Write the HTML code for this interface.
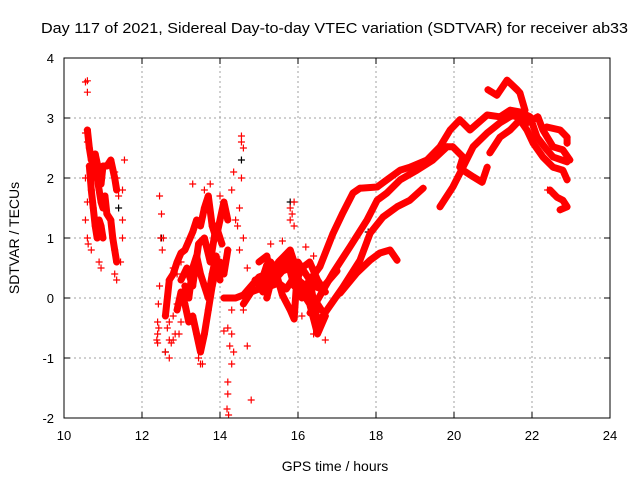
<!DOCTYPE html>
<html><head><meta charset="utf-8"><style>
html,body{margin:0;padding:0;background:#fff}
svg{display:block;font-family:"Liberation Sans",sans-serif}
</style></head><body>
<svg id="chart" width="640" height="480" viewBox="0 0 640 480">
<rect width="640" height="480" fill="#fff"/>
<text x="41" y="33" font-size="15" textLength="587" lengthAdjust="spacingAndGlyphs">Day 117 of 2021, Sidereal Day-to-day VTEC variation (SDTVAR) for receiver ab33</text>
<text x="335" y="471" font-size="14" text-anchor="middle">GPS time / hours</text>
<text x="0" y="0" font-size="14" text-anchor="middle" transform="translate(19,238) rotate(-90)">SDTVAR / TECUs</text>
<g id="grid"></g>
<g id="marks"></g>
<g id="axes"></g>
</svg>
<script>
const xTicks=[10,12,14,16,18,20,22,24];
const yTicks=[-2,-1,0,1,2,3,4];
const blackPoints=[[14.55,2.3],[15.8,1.6],[12.5,1.0],[12.6,-0.9],[17.8,1.1],[11.4,1.5]];
const scatterPoints=[[12.45,1.7],[12.5,1.4],[12.48,1.0],[12.52,0.8],[12.45,0.2],[12.42,-0.1],[12.4,-0.4],[12.43,-0.5],[12.4,-0.6],[12.38,-0.7],[12.55,1.0],
[12.65,-0.5],[12.7,-0.7],[12.75,-0.75],[12.8,-0.7],[12.85,-0.6],[12.7,-0.4],[12.8,-0.3],[12.9,-0.1],[12.6,-0.9],[12.95,-0.6],[13.0,-0.4],[12.7,0.3],[12.8,0.5],[12.9,0.4],[13.0,0.6],
[14.15,0.0],[14.2,-0.5],[14.25,-0.8],[14.3,-0.6],[14.35,-0.9],[14.3,-1.1],[14.2,-1.4],[14.2,-1.6],[14.18,-1.85],[14.22,-1.95],
[14.55,2.6],[14.6,2.5],[14.55,2.7],[14.55,2.0],[14.5,1.5],[14.45,1.2],[14.4,1.3],[14.3,1.8],[14.35,2.1],[14.6,1.0],[14.5,0.8],[14.7,0.5],[14.6,-0.2],
[14.7,-0.8],[14.8,-1.7],[13.5,-1.1],[13.55,-1.1],[13.45,-1.0],[12.7,-1.0],[12.4,-0.75],[15.9,1.6],[15.8,1.5],[15.85,1.4],[15.8,1.3],[15.9,1.2],[16.1,-0.3],[16.7,-0.7],[16.4,-0.6],[16.5,-0.5],[14.1,-0.55],[14.3,-0.2],
[10.55,3.6],[10.6,3.62],[10.6,3.43],[10.6,2.8],[10.55,2.75],[10.6,2.6],[10.55,2.0],[10.6,1.6],[10.55,1.3],[10.6,1.0],[10.62,0.9],[10.7,0.8],[10.9,0.6],[10.95,0.5],[11.3,0.4],[11.35,0.3],[11.45,0.6],[11.5,1.0],[11.5,1.3],[11.4,1.7],[11.5,1.8],[11.55,2.3],[11.35,2.0],[11.3,2.1],
[22.4,1.8],[22.5,1.75],[20.9,3.45],[13.3,1.9],[13.6,1.8],[13.75,1.9],[14.0,1.7],[15.3,0.9],[15.6,0.95],[16.2,0.85],[16.4,0.7]];
const track1=[[10.6,2.8],[10.65,2.5],[10.7,2.3],[10.8,2.2],[10.85,2.0],[10.9,1.8],[10.95,1.6],[11.0,1.5],[11.05,1.7],[11.1,1.4],[11.2,1.3],[11.25,1.0],[11.3,0.8],[11.35,0.6]];
const track2=[[10.65,2.2],[10.7,1.8],[10.75,1.5],[10.8,1.2],[10.85,1.0],[10.9,1.3],[10.95,1.2],[11.0,1.0]];
const track3=[[10.7,2.0],[10.8,2.4],[10.9,2.1],[10.95,1.9],[11.0,2.2],[11.1,2.2],[11.2,2.3],[11.3,2.0],[11.35,1.8]];
const track4=[[12.6,-0.3],[12.7,0.3],[12.8,0.4],[12.9,0.6],[13.0,0.75],[13.1,0.8],[13.2,0.95],[13.3,1.1],[13.4,1.3],[13.5,1.2],[13.6,1.5],[13.7,1.7],[13.8,1.2],[13.9,1.0],[14.0,1.3],[14.1,1.6],[14.2,1.3]];
const track5=[[12.9,-0.2],[13.0,0.1],[13.1,-0.1],[13.2,-0.4],[13.3,-0.3],[13.4,-0.6],[13.5,-0.9],[13.6,-0.6],[13.7,-0.2],[13.8,0.2],[13.9,0.5],[14.0,0.6],[14.1,0.4],[14.2,0.8]];
const track6=[[13.1,0.2],[13.2,0.0],[13.3,0.5],[13.4,0.7],[13.5,0.4],[13.6,0.2],[13.7,0.0],[13.8,0.4],[13.9,0.7],[14.0,0.3]];
const track7=[[14.1,0.0],[14.4,0.0],[14.6,0.05],[14.8,0.2],[15.0,0.35],[15.2,0.4],[15.4,0.3],[15.6,0.45],[15.8,0.5],[16.0,0.3],[16.2,0.2],[16.4,0.0],[16.6,-0.2]];
const track8=[[14.6,-0.1],[14.8,0.1],[15.0,0.15],[15.2,0.55],[15.3,0.2],[15.5,0.25],[15.7,0.15],[15.9,0.35],[16.1,0.0],[16.3,0.3],[16.5,-0.4]];
const track9=[[15.2,0.0],[15.4,0.5],[15.6,0.05],[15.8,-0.2],[15.9,-0.35],[16.0,0.6],[16.2,0.4],[16.4,0.2],[16.6,0.15],[16.8,0.3],[17.0,0.45]];
const track10=[[15.0,0.6],[15.2,0.7],[15.3,0.4],[15.5,0.6],[15.8,0.8],[15.9,0.6],[16.1,0.1],[16.3,-0.1],[16.5,-0.6],[16.7,-0.3]];
const track20=[[14.9,0.3],[15.1,0.1],[15.3,0.6],[15.5,0.4],[15.7,0.7],[15.9,0.2],[16.1,0.5],[16.3,0.6],[16.5,0.3],[16.7,0.1]];
const track21=[[13.0,0.3],[13.15,0.5],[13.3,0.2],[13.45,0.9],[13.6,1.0],[13.75,0.6],[13.9,1.2],[14.05,0.9]];
const track11=[[16.05,0.08],[16.56,0.52],[16.9,1.08],[17.15,1.42],[17.41,1.75],[17.59,1.83],[18.03,1.85],[18.28,1.97],[18.62,2.13],[18.87,2.18],[19.31,2.3],[19.64,2.52],[19.9,2.8],[20.15,2.97],[20.41,2.8],[20.85,3.05],[21.18,3.02],[21.44,3.13],[21.69,3.1],[21.95,3.02],[22.13,2.68],[22.38,2.47],[22.54,2.35],[22.9,2.27]];
const track12=[[16.31,-0.25],[16.9,0.42],[17.33,0.85],[17.77,1.3],[18.03,1.63],[18.28,1.75],[18.62,1.97],[19.05,2.13],[19.46,2.3],[19.82,2.52],[19.97,2.52],[20.23,2.35],[20.15,2.18],[20.23,2.13],[20.49,2.02],[20.72,1.93],[20.85,2.18]];
const track13=[[16.56,-0.37],[17.15,0.18],[17.59,0.63],[17.85,1.08],[18.18,1.35],[18.54,1.52],[18.87,1.63],[19.21,1.83]];
const track14=[[19.64,1.52],[19.97,1.85],[20.23,2.18],[20.49,2.52],[20.85,2.75],[21.18,2.92],[21.51,3.05],[21.87,2.92],[22.15,3.02],[22.28,2.8],[22.54,2.52],[22.79,2.47],[22.97,2.3]];
const track15=[[20.92,2.42],[21.18,2.68],[21.44,2.8],[21.69,2.97],[21.87,2.8],[22.03,2.58],[22.28,2.35],[22.54,2.18],[22.79,2.13],[22.9,1.97]];
const track16=[[17.08,0.08],[17.51,0.42],[17.85,0.63],[18.1,0.75],[18.36,0.8],[18.54,0.63]];
const track17=[[20.87,3.47],[21.1,3.38],[21.36,3.63],[21.62,3.47],[21.69,3.42],[21.82,3.13]];
const track18=[[22.38,2.85],[22.72,2.8],[22.9,2.68],[22.9,2.58]];
const track19=[[22.46,1.8],[22.64,1.68],[22.79,1.63],[22.9,1.52],[22.72,1.47]];
const tracks=[track1,track2,track3,track4,track5,track6,track7,track8,track9,track10,track20,track21,track11,track12,track13,track14,track15,track16,track17,track18,track19];

const X0=64,X1=610,Y0=418,Y1=58,XMIN=10,XMAX=24,YMIN=-2,YMAX=4;
function xs(v){return X0+(v-XMIN)/(XMAX-XMIN)*(X1-X0);}
function ys(v){return Y0-(v-YMIN)/(YMAX-YMIN)*(Y0-Y1);}
const NS='http://www.w3.org/2000/svg';
const grid=document.getElementById('grid'),marks=document.getElementById('marks'),axes=document.getElementById('axes');
function mk(tag,attrs,parent){const e=document.createElementNS(NS,tag);for(const k in attrs)e.setAttribute(k,attrs[k]);parent.appendChild(e);return e;}
xTicks.forEach(t=>{
  const x=xs(t);
  if(t>XMIN&&t<XMAX){const g=mk('line',{x1:x,y1:Y0,x2:x,y2:Y1,stroke:'#a0a0a0','stroke-dasharray':'2,3'},grid);
  
  }
  const tk=mk('path',{d:`M${x},${Y0}v-6M${x},${Y1}v6`,stroke:'#000'},axes);
  
  
  const lb=mk('text',{x:x,y:Y0+22,'font-size':13,'text-anchor':'middle'},axes);
  lb.textContent=t;
  
  
});
yTicks.forEach(t=>{
  const y=ys(t);
  if(t>YMIN&&t<YMAX){const g=mk('line',{x1:X0,y1:y,x2:X1,y2:y,stroke:'#a0a0a0','stroke-dasharray':'2,3'},grid);
  
  }
  const tk=mk('path',{d:`M${X0},${y}h6M${X1},${y}h-6`,stroke:'#000'},axes);
  
  
  const lb=mk('text',{x:X0-10,y:y+5,'font-size':13,'text-anchor':'end'},axes);
  lb.textContent=t;
  
  
});
const box=mk('rect',{x:X0,y:Y1,width:X1-X0,height:Y0-Y1,fill:'none',stroke:'#000'},axes);


function plus(p,color){
  const x=xs(p[0]),y=ys(p[1]);
  const e=mk('path',{d:`M${x-3.5},${y}h7M${x},${y-3.5}v7`,stroke:color,'stroke-width':1.2,fill:'none'},marks);
  
  
}
blackPoints.forEach(p=>plus(p,'#000'));
tracks.forEach(tr=>{
  const pl=mk('polyline',{points:tr.map(p=>xs(p[0])+','+ys(p[1])).join(' '),fill:'none',stroke:'#f00','stroke-width':7,'stroke-linejoin':'round','stroke-linecap':'round'},marks);
  
  
  tr.forEach(p=>plus(p,'#f00'));
});
scatterPoints.forEach(p=>plus(p,'#f00'));
</script>
</body></html>
